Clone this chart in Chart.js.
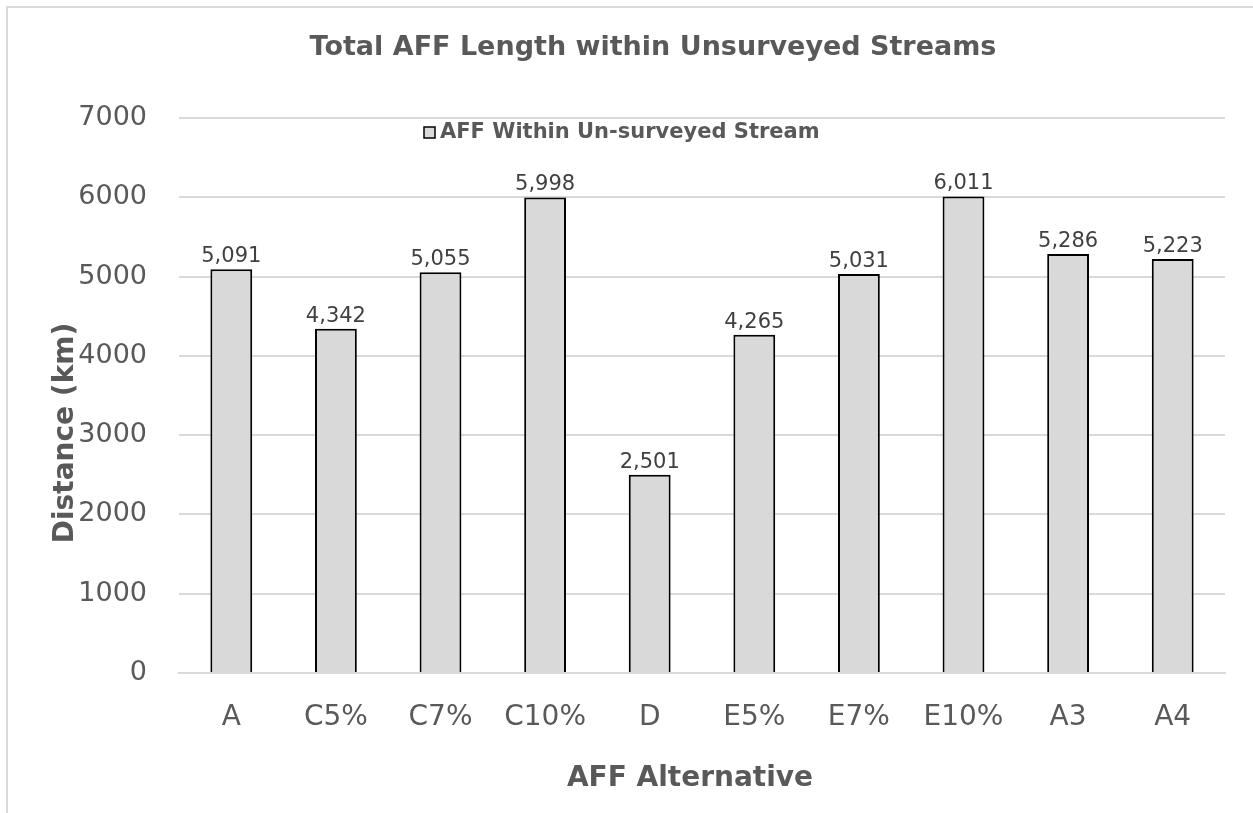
<!DOCTYPE html>
<html>
<head>
<meta charset="utf-8">
<script src="https://cdn.jsdelivr.net/npm/chart.js@4.4.0/dist/chart.umd.min.js"></script>
<style>
  html, body { margin: 0; padding: 0; background: #fff; overflow: hidden; }
  #frame { position: absolute; left: 6px; top: 6px; width: 1400px; height: 1000px; border: 2px solid #d9d9d9; }
  #wrap { position: absolute; left: 0; top: 0; width: 1253px; height: 813px; }
</style>
</head>
<body>
<div id="frame"></div>
<div id="wrap"><canvas id="chart" width="1253" height="813"></canvas></div>
<script>
// chart data
const categories = ['A', 'C5%', 'C7%', 'C10%', 'D', 'E5%', 'E7%', 'E10%', 'A3', 'A4'];
const lengths = [5091, 4342, 5055, 5998, 2501, 4265, 5031, 6011, 5286, 5223];
const seriesName = 'AFF Within Un-surveyed Stream';
const yTicks = [0, 1000, 2000, 3000, 4000, 5000, 6000, 7000];

const chartTitle = 'Total AFF Length within Unsurveyed Streams';
const xTitle = 'AFF Alternative';
const yTitle = 'Distance (km)';

const grey = '#595959';
const font = 'DejaVu Sans';

// value labels, inside legend and the titles, placed the way Excel had them
const extras = {
  id: 'extras',
  afterDatasetsDraw(chart) {
    const ctx = chart.ctx;
    const meta = chart.getDatasetMeta(0);
    ctx.save();
    ctx.font = '21px "' + font + '"';
    ctx.fillStyle = '#404040';
    ctx.textAlign = 'center';
    ctx.textBaseline = 'bottom';
    meta.data.forEach((bar, i) => {
      ctx.fillText(lengths[i].toLocaleString('en-US'), bar.x, bar.y - 2);
    });

    // legend
    const ds = chart.data.datasets[0];
    const area = chart.chartArea;
    const ly = area.top + 15;
    const lx = area.left + 245;
    ctx.fillStyle = ds.backgroundColor;
    ctx.fillRect(lx, ly - 6, 11, 11);
    ctx.strokeStyle = ds.borderColor;
    ctx.lineWidth = 1.5;
    ctx.strokeRect(lx, ly - 6, 11, 11);
    ctx.font = 'bold 21px "' + font + '"';
    ctx.fillStyle = grey;
    ctx.textAlign = 'left';
    ctx.textBaseline = 'middle';
    ctx.fillText(ds.label, lx + 16, ly);

    // chart title
    ctx.textAlign = 'center';
    ctx.font = 'bold 27px "' + font + '"';
    ctx.fillText(chartTitle, 653, 48);

    // x axis title
    ctx.font = 'bold 28px "' + font + '"';
    ctx.fillText(xTitle, 690, 779);

    // y axis title
    ctx.translate(66, 433);
    ctx.rotate(-Math.PI / 2);
    ctx.fillText(yTitle, 0, 0);
    ctx.restore();
  }
};

new Chart(document.getElementById('chart'), {
  type: 'bar',
  data: {
    labels: categories,
    datasets: [{
      label: seriesName,
      data: lengths,
      backgroundColor: '#d9d9d9',
      borderColor: '#000000',
      borderWidth: 2,
      barPercentage: 0.4,
      categoryPercentage: 1.0
    }]
  },
  options: {
    responsive: false,
    animation: false,
    layout: { padding: { left: 10, right: 28, top: 118, bottom: 0 } },
    plugins: {
      legend: { display: false },
      tooltip: { enabled: false },
      title: { display: false }
    },
    scales: {
      x: {
        grid: { display: false, drawTicks: false },
        border: { color: '#d9d9d9', width: 2 },
        ticks: { color: grey, font: { family: font, size: 28 }, padding: 28 },
        afterFit(scale) { scale.height = 140; }
      },
      y: {
        min: 0,
        max: 7000,
        afterBuildTicks(scale) { scale.ticks = yTicks.map(v => ({ value: v })); },
        grid: { color: '#d9d9d9', lineWidth: 2, drawTicks: false },
        border: { display: false },
        ticks: {
          color: grey,
          font: { family: font, size: 27 },
          padding: 32,
          callback: v => String(v)
        },
        afterFit(scale) { scale.width = 169; }
      }
    }
  },
  plugins: [extras]
});
</script>
</body>
</html>
